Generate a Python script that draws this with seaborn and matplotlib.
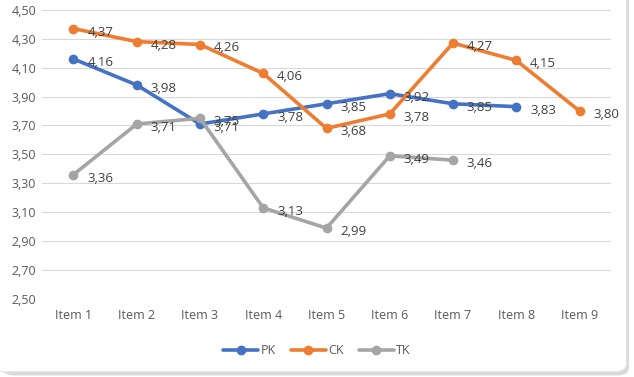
import numpy as np
import pandas as pd
import matplotlib.pyplot as plt
import seaborn as sns
from matplotlib.patches import FancyBboxPatch

sns.set_theme(style='white')
plt.rcParams['font.family'] = ['Open Sans', 'DejaVu Sans']

items = ['Item 1', 'Item 2', 'Item 3', 'Item 4', 'Item 5', 'Item 6', 'Item 7', 'Item 8', 'Item 9']
pk = [4.16, 3.98, 3.71, 3.78, 3.85, 3.92, 3.85, 3.83]
ck = [4.37, 4.28, 4.26, 4.06, 3.68, 3.78, 4.27, 4.15, 3.80]
tk = [3.36, 3.71, 3.75, 3.13, 2.99, 3.49, 3.46]

series = {'PK': pk, 'CK': ck, 'TK': tk}
colors = {'PK': '#4472C4', 'CK': '#ED7D31', 'TK': '#A5A5A5'}
y_ticks = [2.5, 2.7, 2.9, 3.1, 3.3, 3.5, 3.7, 3.9, 4.1, 4.3, 4.5]

rows = []
for name, vals in series.items():
    for i, v in enumerate(vals):
        rows.append({'item': items[i], 'pos': i, 'value': v, 'series': name})
df = pd.DataFrame(rows)

fig = plt.figure(figsize=(6.34, 3.77), dpi=100)
fig.patch.set_facecolor('white')

# card frame with soft shadow
shadow = FancyBboxPatch((0.004, 0.004), 0.988, 1.05, boxstyle='round,pad=0,rounding_size=0.02',
                        transform=fig.transFigure, facecolor='#d9d9d9', edgecolor='none', zorder=-3)
card = FancyBboxPatch((-0.01, 0.014), 0.998, 1.05, boxstyle='round,pad=0,rounding_size=0.02',
                      transform=fig.transFigure, facecolor='white', edgecolor='#e6e6e6', lw=0.8, zorder=-2)
fig.patches.extend([shadow, card])

ax = fig.add_axes([0.066, 0.207, 0.898, 0.767])
ax.set_facecolor('none')
ax.set_zorder(1)

sns.lineplot(data=df, x='pos', y='value', hue='series', palette=colors,
             marker='o', markersize=7, markeredgewidth=0, linewidth=2.6,
             ax=ax, legend=False, sort=False)

for name, vals in series.items():
    for i, v in enumerate(vals):
        ax.annotate(f'{v:.2f}'.replace('.', ','), (i, v), xytext=(10, -2.5),
                    textcoords='offset points', ha='left', va='center',
                    fontsize=9.5, color='#404040')

ax.set_xlim(-0.5, len(items) - 0.5)
ax.set_ylim(2.5, 4.5)
ax.set_xticks(range(len(items)))
ax.set_xticklabels(items)
ax.set_yticks(y_ticks)
ax.set_yticklabels([f'{t:.2f}'.replace('.', ',') for t in y_ticks])
ax.tick_params(axis='both', labelsize=9, colors='#595959', length=0)
ax.tick_params(axis='x', pad=7)
ax.tick_params(axis='y', pad=4)
ax.grid(axis='y', color='#d9d9d9', linewidth=0.8)
ax.set_axisbelow(True)
for s in ax.spines.values():
    s.set_visible(False)
ax.set_xlabel('')
ax.set_ylabel('')

handles = [plt.Line2D([], [], color=colors[n], marker='o', markersize=6, linewidth=2.6) for n in series]
fig.legend(handles, list(series), loc='center', bbox_to_anchor=(0.5, 0.07), ncol=3,
           frameon=False, fontsize=9, handlelength=2.8, columnspacing=1.2, handletextpad=0.2,
           labelcolor='#595959')

fig.savefig('out.png', dpi=100)
